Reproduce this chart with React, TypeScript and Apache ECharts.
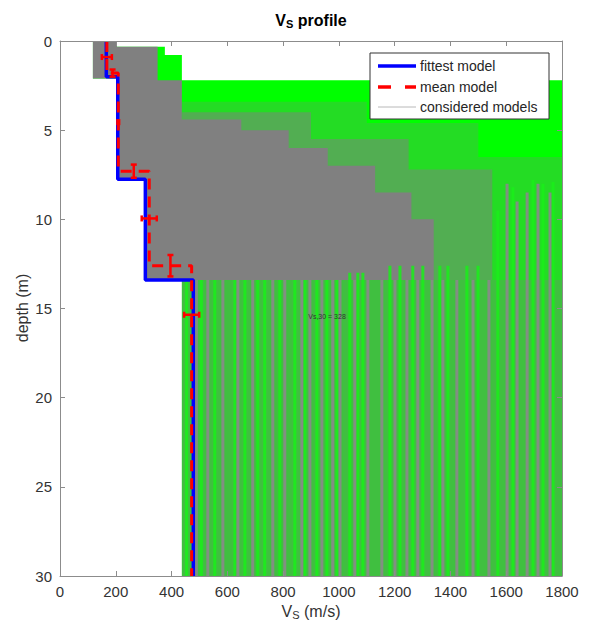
import React, { useEffect, useRef } from 'react';
import * as echarts from 'echarts';

// axis ranges
const X_MIN = 0, X_MAX = 1800, X_STEP = 200;
const Y_MIN = 0, Y_MAX = 30, Y_STEP = 5;

// fittest model (Vs per layer, layer top depth)
const fitVs = [166, 207, 306, 478];
const fitTop = [0, 2.0, 7.75, 13.4];

// mean model
const meanVs = [168, 209, 320, 472];
const meanTop = [0, 1.8, 7.3, 12.6];
const meanErrDepth = [0.9, 4.55, 9.95, 15.35];
const meanErrHalf = [18, 3, 27, 27];
const ifaceErrHalf = [0.2, 0.37, 0.6];

// envelope of the model space (green)
const envelope: number[][] = [
  [118, 0], [204, 0], [204, 0.32], [376, 0.32], [376, 0.78], [437, 0.78], [437, 2.2],
  [1800, 2.2], [1800, 30], [437, 30], [437, 13.4], [305, 13.4], [305, 7.8], [205, 7.8],
  [205, 2.1], [118, 2.1],
];
// dense part of considered models (gray)
const grayCore: number[][] = [
  [118, 0], [204, 0], [204, 0.32], [350, 0.32], [350, 2.2], [437, 2.2], [437, 4.4],
  [650, 4.4], [650, 5.0], [820, 5.0], [820, 6.0], [960, 6.0], [960, 7.0], [1130, 7.0],
  [1130, 8.5], [1260, 8.5], [1260, 10.0], [1340, 10.0], [1340, 13.4], [305, 13.4],
  [305, 7.8], [205, 7.8], [205, 2.1], [118, 2.1],
];
const grayMid: number[][] = [
  [437, 4.0], [900, 4.0], [900, 5.5], [1250, 5.5], [1250, 7.2], [1550, 7.2], [1550, 13.4],
  [437, 13.4],
];
const grayFaint: number[][] = [
  [437, 3.4], [1100, 3.4], [1100, 4.6], [1500, 4.6], [1500, 6.5], [1800, 6.5], [1800, 13.4],
  [437, 13.4],
];
const halfSpaceShade: number[][] = [[437, 13.4], [1800, 13.4], [1800, 30], [437, 30]];

// half-space velocities: bright (few models) and gray (many models) stripes
const brightVs = [454, 507, 555, 627, 663, 709, 734, 788, 842, 878, 921, 957, 993, 1039, 1068,
  1086, 1183, 1219, 1265, 1301, 1362, 1391, 1459, 1499, 1570, 1624, 1696, 1732, 1768];
const brightTop = [13.4, 13.4, 13.4, 13.4, 13.4, 13.4, 13.4, 13.4, 13.4, 13.4, 13.4, 13.4, 13.4,
  13.0, 13.0, 13.0, 12.6, 12.6, 12.6, 12.6, 12.6, 12.6, 12.6, 12.6, 9.5, 8.2, 7.8, 8.0, 7.9];
const grayVs = [489, 530, 584, 638, 691, 763, 806, 867, 896, 939, 978, 1004, 1057, 1104, 1154,
  1201, 1244, 1283, 1334, 1373, 1423, 1481, 1538, 1603, 1639, 1675, 1714, 1757];
const grayTop = [13.4, 13.4, 13.4, 13.4, 13.4, 13.4, 13.4, 13.4, 13.4, 13.4, 13.4, 13.4, 13.4,
  13.4, 13.4, 13.4, 13.4, 13.4, 13.4, 13.4, 13.4, 13.4, 13.4, 8.0, 9.0, 8.5, 8.0, 8.5];

const FONT = 'Liberation Sans, Arial, Helvetica, sans-serif';
const TXT = '#333333';
const AXC = '#8c8c8c';

function stepPoints(vs: number[], tops: number[]) {
  const pts: number[][] = [];
  vs.forEach((v, i) => {
    const bottom = i + 1 < tops.length ? tops[i + 1] : Y_MAX;
    pts.push([v, tops[i]], [v, bottom]);
  });
  return pts;
}

function polygonSeries(pts: number[][], fill: string, opacity: number, z: number) {
  return {
    type: 'custom', silent: true, z, clip: true,
    data: [[pts[0][0], pts[0][1]]],
    renderItem: (_p: any, api: any) => ({
      type: 'polygon',
      shape: { points: pts.map((p) => api.coord(p)) },
      style: { fill, opacity },
    }),
  };
}

function stripeSeries(vs: number[], tops: number[], color: string, width: number, opacity: number, z: number) {
  return {
    type: 'custom', silent: true, z, clip: true,
    data: vs.map((v, i) => [v, tops[i]]),
    renderItem: (_p: any, api: any) => {
      const a = api.coord([api.value(0), api.value(1)]);
      const b = api.coord([api.value(0), Y_MAX]);
      return {
        type: 'line',
        shape: { x1: a[0], y1: a[1], x2: b[0], y2: b[1] },
        style: { stroke: color, lineWidth: width, opacity },
      };
    },
  };
}

export default function App() {
  const ref = useRef<HTMLDivElement>(null);
  useEffect(() => {
    if (!ref.current) return;
    const chart = echarts.init(ref.current, null, { renderer: 'svg' });

    const hBars = meanVs.map((v, i) => [v, meanErrDepth[i], meanErrHalf[i], 0]);
    const vBars = ifaceErrHalf.map((h, i) => [(meanVs[i] + meanVs[i + 1]) / 2, meanTop[i + 1], h, 1]);

    const axisCommon = {
      axisLine: { show: true, onZero: false, lineStyle: { color: AXC, width: 1 } },
      axisTick: { show: true, inside: true, length: 5, lineStyle: { color: AXC } },
      splitLine: { show: false },
      z: 10,
    };
    const fmt = (v: number) => String(v);

    const L = 200; // z for overlay graphics
    const option: any = {
      animation: false,
      grid: { left: 60, top: 41, right: 29, bottom: 55 },
      xAxis: [
        {
          type: 'value', min: X_MIN, max: X_MAX, interval: X_STEP, position: 'bottom',
          ...axisCommon,
          axisLabel: { color: TXT, fontSize: 15, fontFamily: FONT, margin: 8, formatter: fmt },
        },
        {
          type: 'value', min: X_MIN, max: X_MAX, interval: X_STEP, position: 'top',
          ...axisCommon, axisLabel: { show: false },
        },
      ],
      yAxis: [
        {
          type: 'value', min: Y_MIN, max: Y_MAX, interval: Y_STEP, inverse: true, position: 'left',
          ...axisCommon,
          axisLabel: { color: TXT, fontSize: 15, fontFamily: FONT, margin: 8, formatter: fmt },
        },
        {
          type: 'value', min: Y_MIN, max: Y_MAX, interval: Y_STEP, inverse: true, position: 'right',
          ...axisCommon, axisLabel: { show: false },
        },
      ],
      series: [
        polygonSeries(envelope, '#00ff00', 1, 1),
        polygonSeries(grayFaint, '#808080', 0.28, 2),
        polygonSeries(grayMid, '#808080', 0.5, 3),
        polygonSeries(halfSpaceShade, '#808080', 0.5, 3),
        polygonSeries(grayCore, '#808080', 1, 4),
        stripeSeries(brightVs, brightTop, '#1aee1a', 3, 0.85, 5),
        stripeSeries(grayVs, grayTop, '#8a8a8a', 3, 0.9, 5),
        {
          type: 'line', name: 'fittest model', data: stepPoints(fitVs, fitTop), showSymbol: false,
          lineStyle: { color: '#0000ff', width: 3.5 }, z: 7, silent: true,
        },
        {
          type: 'line', name: 'mean model', data: stepPoints(meanVs, meanTop), showSymbol: false,
          lineStyle: { color: '#ff0000', width: 3, type: [11, 7] }, z: 8, silent: true,
        },
        {
          type: 'custom', silent: true, z: 9, clip: true,
          data: [...hBars, ...vBars],
          renderItem: (_p: any, api: any) => {
            const cx = api.value(0), cy = api.value(1), h = api.value(2), kind = api.value(3);
            const cap = 3;
            const st = { stroke: '#ff0000', lineWidth: 2.5 };
            let p1, p2, c1, c2;
            if (kind === 0) {
              p1 = api.coord([cx - h, cy]); p2 = api.coord([cx + h, cy]);
              c1 = { x1: p1[0], y1: p1[1] - cap, x2: p1[0], y2: p1[1] + cap };
              c2 = { x1: p2[0], y1: p2[1] - cap, x2: p2[0], y2: p2[1] + cap };
            } else {
              p1 = api.coord([cx, cy - h]); p2 = api.coord([cx, cy + h]);
              c1 = { x1: p1[0] - cap, y1: p1[1], x2: p1[0] + cap, y2: p1[1] };
              c2 = { x1: p2[0] - cap, y1: p2[1], x2: p2[0] + cap, y2: p2[1] };
            }
            return {
              type: 'group',
              children: [
                { type: 'line', shape: { x1: p1[0], y1: p1[1], x2: p2[0], y2: p2[1] }, style: st },
                { type: 'line', shape: c1, style: st },
                { type: 'line', shape: c2, style: st },
              ],
            };
          },
        },
      ],
      graphic: [
        {
          type: 'text', x: 311, y: 20, z: L,
          style: {
            text: '{a|V}{b|S}{a| profile}', align: 'center', verticalAlign: 'middle',
            rich: {
              a: { fontSize: 16, fontWeight: 'bold', fontFamily: FONT, fill: '#000', lineHeight: 18 },
              b: { fontSize: 11, fontWeight: 'bold', fontFamily: FONT, fill: '#000', lineHeight: 6, verticalAlign: 'bottom' },
            },
          },
        },
        {
          type: 'text', x: 311, y: 611, z: L,
          style: {
            text: '{a|V}{b|S}{a| (m/s)}', align: 'center', verticalAlign: 'middle',
            rich: {
              a: { fontSize: 16, fontFamily: FONT, fill: TXT, lineHeight: 18 },
              b: { fontSize: 11, fontFamily: FONT, fill: TXT, lineHeight: 6, verticalAlign: 'bottom' },
            },
          },
        },
        {
          type: 'text', x: 22, y: 308, rotation: Math.PI / 2, z: L,
          style: {
            text: 'depth (m)', fontSize: 16, fontFamily: FONT, fill: TXT,
            align: 'center', verticalAlign: 'middle',
          },
        },
        {
          type: 'text', x: 327, y: 316, z: L,
          style: { text: 'Vs,30 = 328', fontSize: 7, fontFamily: FONT, fill: '#333', align: 'center', verticalAlign: 'middle' },
        },
        { type: 'rect', z: L, shape: { x: 370, y: 53, width: 179, height: 66 }, style: { fill: '#fff', stroke: '#333', lineWidth: 1 } },
        { type: 'line', z: L + 1, shape: { x1: 378, y1: 66, x2: 416, y2: 66 }, style: { stroke: '#0000ff', lineWidth: 3.5 } },
        { type: 'line', z: L + 1, shape: { x1: 378, y1: 87, x2: 391, y2: 87 }, style: { stroke: '#ff0000', lineWidth: 3.5 } },
        { type: 'line', z: L + 1, shape: { x1: 405, y1: 87, x2: 416, y2: 87 }, style: { stroke: '#ff0000', lineWidth: 3.5 } },
        { type: 'line', z: L + 1, shape: { x1: 378, y1: 107, x2: 416, y2: 107 }, style: { stroke: '#b8b8b8', lineWidth: 1 } },
        { type: 'text', z: L + 1, x: 420, y: 66, style: { text: 'fittest model', fontSize: 14, fontFamily: FONT, fill: '#262626', verticalAlign: 'middle' } },
        { type: 'text', z: L + 1, x: 420, y: 87, style: { text: 'mean model', fontSize: 14, fontFamily: FONT, fill: '#262626', verticalAlign: 'middle' } },
        { type: 'text', z: L + 1, x: 420, y: 107, style: { text: 'considered models', fontSize: 14, fontFamily: FONT, fill: '#262626', verticalAlign: 'middle' } },
      ],
    };
    chart.setOption(option);
    return () => chart.dispose();
  }, []);
  return <div ref={ref} style={{ position: 'fixed', left: 0, top: 0, width: 591, height: 631, background: '#fff' }} />;
}
